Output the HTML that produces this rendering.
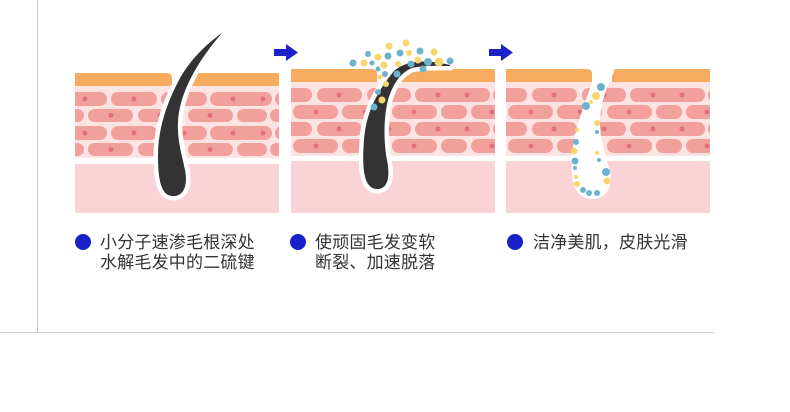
<!DOCTYPE html>
<html>
<head>
<meta charset="utf-8">
<style>
  html,body{margin:0;padding:0;background:#fff;}
  body{width:790px;height:412px;position:relative;overflow:hidden;}
  svg{position:absolute;left:0;top:0;}
  .t{position:absolute;font-family:"Liberation Sans","Noto Sans CJK SC",sans-serif;font-size:17px;line-height:20px;color:#333;white-space:nowrap;letter-spacing:0.2px;}
  .b{position:absolute;width:16px;height:16px;border-radius:50%;background:#1a20c8;}
</style>
</head>
<body>
<svg width="790" height="412" viewBox="0 0 790 412" xmlns="http://www.w3.org/2000/svg">
  <defs>
    <clipPath id="c1"><rect x="75" y="20" width="204" height="193"/></clipPath>
    <clipPath id="c2"><rect x="291" y="20" width="204" height="193"/></clipPath>
    <clipPath id="c3"><rect x="506" y="20" width="204" height="193"/></clipPath>
  </defs>

  <!-- frame lines -->
  <line x1="37.5" y1="0" x2="37.5" y2="332" stroke="#cccccc" stroke-width="1"/>
  <line x1="0" y1="332.5" x2="714" y2="332.5" stroke="#cccccc" stroke-width="1"/>

  <!-- arrows -->
  <g fill="#1a22c8">
    <rect x="274" y="49" width="14" height="7"/>
    <polygon points="286,44 298,52.5 286,61"/>
    <rect x="489" y="49" width="14" height="7"/>
    <polygon points="501,44 513,52.5 501,61"/>
  </g>

  <!-- PANEL 1 -->
  <g clip-path="url(#c1)">
    <path d="M75 73 H167 Q172 73 172 78 V86 H75 Z" fill="#f6ab5f"/>
    <path d="M192 86 V78 Q192 73 197 73 H279 V86 Z" fill="#f6ab5f"/>
    <rect x="75" y="86" width="204" height="72" fill="#fde3e1"/>
    <g fill="#f2a09b">
      <rect x="62" y="92" width="45" height="14" rx="7"/>
      <rect x="111" y="92" width="46" height="14" rx="7"/>
      <rect x="161" y="92" width="46" height="14" rx="7"/>
      <rect x="210" y="92" width="62" height="14" rx="7"/>
      <rect x="275" y="92" width="45" height="14" rx="7"/>
      <rect x="40" y="109" width="44" height="13" rx="6.5"/>
      <rect x="88" y="109" width="45" height="13" rx="6.5"/>
      <rect x="138" y="109" width="45" height="13" rx="6.5"/>
      <rect x="188" y="109" width="45" height="13" rx="6.5"/>
      <rect x="237" y="109" width="30" height="13" rx="6.5"/>
      <rect x="270" y="109" width="45" height="13" rx="6.5"/>
      <rect x="62" y="126" width="45" height="14" rx="7"/>
      <rect x="111" y="126" width="46" height="14" rx="7"/>
      <rect x="161" y="126" width="46" height="14" rx="7"/>
      <rect x="210" y="126" width="62" height="14" rx="7"/>
      <rect x="275" y="126" width="45" height="14" rx="7"/>
      <rect x="40" y="143" width="44" height="13" rx="6.5"/>
      <rect x="88" y="143" width="45" height="13" rx="6.5"/>
      <rect x="138" y="143" width="45" height="13" rx="6.5"/>
      <rect x="188" y="143" width="45" height="13" rx="6.5"/>
      <rect x="237" y="143" width="30" height="13" rx="6.5"/>
      <rect x="270" y="143" width="45" height="13" rx="6.5"/>
    </g>
    <g fill="#e3717b">
      <circle cx="85" cy="99" r="2.5"/><circle cx="134" cy="99" r="2.5"/><circle cx="184" cy="99" r="2.5"/><circle cx="233" cy="99" r="2.5"/><circle cx="263" cy="99" r="2.5"/>
      <circle cx="111" cy="115.5" r="2.5"/><circle cx="160" cy="115.5" r="2.5"/><circle cx="210" cy="115.5" r="2.5"/>
      <circle cx="85" cy="133" r="2.5"/><circle cx="134" cy="133" r="2.5"/><circle cx="184" cy="133" r="2.5"/><circle cx="233" cy="133" r="2.5"/><circle cx="263" cy="133" r="2.5"/>
      <circle cx="111" cy="149.5" r="2.5"/><circle cx="160" cy="149.5" r="2.5"/><circle cx="210" cy="149.5" r="2.5"/>
    </g>
    <rect x="75" y="158" width="204" height="6" fill="#ffffff"/>
    <rect x="75" y="164" width="204" height="49" fill="#f9d3d6"/>
    <!-- hair -->
    <path d="M222 33 C205 45,188 62,178 82 C166 105,158 130,158 155 C158 180,161 195,172 196 C184 197,188 185,185 170 C182 155,177 140,178 122 C179 100,190 70,222 33 Z" fill="#fff" stroke="#fff" stroke-width="9" stroke-linejoin="round"/>
    <path d="M222 33 C205 45,188 62,178 82 C166 105,158 130,158 155 C158 180,161 195,172 196 C184 197,188 185,185 170 C182 155,177 140,178 122 C179 100,190 70,222 33 Z" fill="#333333"/>
  </g>

  <!-- PANEL 2 -->
  <g clip-path="url(#c2)">
    <path d="M291 69 H372 Q377 69 377 74 V82 H291 Z" fill="#f6ab5f"/>
    <path d="M397 82 V74 Q397 69 402 69 H495 V82 Z" fill="#f6ab5f"/>
    <rect x="291" y="82" width="204" height="74" fill="#fde3e1"/>
    <g fill="#f2a09b">
      <rect x="265" y="88" width="47" height="14" rx="7"/>
      <rect x="317" y="88" width="45" height="14" rx="7"/>
      <rect x="367" y="88" width="44" height="14" rx="7"/>
      <rect x="415" y="88" width="75" height="14" rx="7"/>
      <rect x="493" y="88" width="47" height="14" rx="7"/>
      <rect x="293" y="105" width="45" height="14" rx="7"/>
      <rect x="342" y="105" width="45" height="14" rx="7"/>
      <rect x="392" y="105" width="45" height="14" rx="7"/>
      <rect x="441" y="105" width="26" height="14" rx="7"/>
      <rect x="471" y="105" width="49" height="14" rx="7"/>
      <rect x="265" y="122" width="47" height="14" rx="7"/>
      <rect x="317" y="122" width="45" height="14" rx="7"/>
      <rect x="367" y="122" width="44" height="14" rx="7"/>
      <rect x="415" y="122" width="75" height="14" rx="7"/>
      <rect x="493" y="122" width="47" height="14" rx="7"/>
      <rect x="293" y="139" width="45" height="14" rx="7"/>
      <rect x="342" y="139" width="45" height="14" rx="7"/>
      <rect x="392" y="139" width="45" height="14" rx="7"/>
      <rect x="441" y="139" width="26" height="14" rx="7"/>
      <rect x="471" y="139" width="49" height="14" rx="7"/>
    </g>
    <g fill="#e3717b">
      <circle cx="339" cy="95" r="2.5"/><circle cx="389" cy="95" r="2.5"/><circle cx="438" cy="95" r="2.5"/><circle cx="467" cy="95" r="2.5"/>
      <circle cx="316" cy="112" r="2.5"/><circle cx="365" cy="112" r="2.5"/><circle cx="414" cy="112" r="2.5"/><circle cx="492" cy="112" r="2.5"/>
      <circle cx="339" cy="129" r="2.5"/><circle cx="389" cy="129" r="2.5"/><circle cx="438" cy="129" r="2.5"/><circle cx="467" cy="129" r="2.5"/>
      <circle cx="316" cy="146" r="2.5"/><circle cx="365" cy="146" r="2.5"/><circle cx="414" cy="146" r="2.5"/><circle cx="492" cy="146" r="2.5"/>
    </g>
    <rect x="291" y="156" width="204" height="5" fill="#ffffff"/>
    <rect x="291" y="161" width="204" height="52" fill="#f9d3d6"/>
    <!-- hair -->
    <path d="M450 65 C430 60,407 59,394 71 C380 88,366 110,364 140 C362 165,363 188,376 189 C389 190,390 175,387 160 C384 145,383 120,388 100 C393 84,400 73,412 68 C425 65,440 66,450 66 Z" fill="#fff" stroke="#fff" stroke-width="9" stroke-linejoin="round"/>
    <path d="M450 65 C430 60,407 59,394 71 C380 88,366 110,364 140 C362 165,363 188,376 189 C389 190,390 175,387 160 C384 145,383 120,388 100 C393 84,400 73,412 68 C425 65,440 66,450 66 Z" fill="#333333"/>
    <!-- particles -->
    <g fill="#6cb2cd">
      <circle cx="353" cy="63" r="3.5"/><circle cx="368" cy="54" r="3"/><circle cx="372" cy="63" r="2.5"/>
      <circle cx="388" cy="56" r="3.5"/><circle cx="400" cy="53" r="3.5"/><circle cx="420" cy="51" r="3.5"/>
      <circle cx="411" cy="64" r="3.5"/><circle cx="428" cy="62" r="4"/><circle cx="423" cy="69" r="3.5"/>
      <circle cx="450" cy="61" r="3.5"/><circle cx="378" cy="69" r="2.5"/><circle cx="385" cy="74" r="3"/>
      <circle cx="397" cy="74" r="3.5"/><circle cx="378" cy="92" r="3"/><circle cx="374" cy="107" r="3.5"/>
    </g>
    <g fill="#f8d66b">
      <circle cx="389" cy="46" r="3.5"/><circle cx="406" cy="43" r="3.5"/><circle cx="364" cy="63" r="3.5"/>
      <circle cx="378" cy="57" r="3.5"/><circle cx="384" cy="65" r="3.5"/><circle cx="409" cy="53" r="3"/>
      <circle cx="434" cy="52" r="3.5"/><circle cx="439" cy="62" r="4.5"/><circle cx="418" cy="60" r="3.5"/>
      <circle cx="398" cy="64" r="3"/><circle cx="386" cy="84" r="3"/><circle cx="382" cy="100" r="3.5"/>
      <circle cx="380" cy="77" r="2.5"/>
    </g>
  </g>

  <!-- PANEL 3 -->
  <g clip-path="url(#c3)">
    <path d="M506 69 H587 Q592 69 592 74 V82 H506 Z" fill="#f6ab5f"/>
    <path d="M612 82 V74 Q612 69 617 69 H710 V82 Z" fill="#f6ab5f"/>
    <rect x="506" y="82" width="204" height="74" fill="#fde3e1"/>
    <g fill="#f2a09b">
      <rect x="480" y="88" width="47" height="14" rx="7"/>
      <rect x="532" y="88" width="45" height="14" rx="7"/>
      <rect x="582" y="88" width="44" height="14" rx="7"/>
      <rect x="630" y="88" width="75" height="14" rx="7"/>
      <rect x="708" y="88" width="47" height="14" rx="7"/>
      <rect x="508" y="105" width="45" height="14" rx="7"/>
      <rect x="557" y="105" width="45" height="14" rx="7"/>
      <rect x="607" y="105" width="45" height="14" rx="7"/>
      <rect x="656" y="105" width="26" height="14" rx="7"/>
      <rect x="686" y="105" width="49" height="14" rx="7"/>
      <rect x="480" y="122" width="47" height="14" rx="7"/>
      <rect x="532" y="122" width="45" height="14" rx="7"/>
      <rect x="582" y="122" width="44" height="14" rx="7"/>
      <rect x="630" y="122" width="75" height="14" rx="7"/>
      <rect x="708" y="122" width="47" height="14" rx="7"/>
      <rect x="508" y="139" width="45" height="14" rx="7"/>
      <rect x="557" y="139" width="45" height="14" rx="7"/>
      <rect x="607" y="139" width="45" height="14" rx="7"/>
      <rect x="656" y="139" width="26" height="14" rx="7"/>
      <rect x="686" y="139" width="49" height="14" rx="7"/>
    </g>
    <g fill="#e3717b">
      <circle cx="554" cy="95" r="2.5"/><circle cx="604" cy="95" r="2.5"/><circle cx="653" cy="95" r="2.5"/><circle cx="682" cy="95" r="2.5"/>
      <circle cx="531" cy="112" r="2.5"/><circle cx="580" cy="112" r="2.5"/><circle cx="629" cy="112" r="2.5"/><circle cx="707" cy="112" r="2.5"/>
      <circle cx="554" cy="129" r="2.5"/><circle cx="604" cy="129" r="2.5"/><circle cx="653" cy="129" r="2.5"/><circle cx="682" cy="129" r="2.5"/>
      <circle cx="531" cy="146" r="2.5"/><circle cx="580" cy="146" r="2.5"/><circle cx="629" cy="146" r="2.5"/><circle cx="707" cy="146" r="2.5"/>
    </g>
    <rect x="506" y="156" width="204" height="5" fill="#ffffff"/>
    <rect x="506" y="161" width="204" height="52" fill="#f9d3d6"/>
    <!-- empty follicle -->
    <path d="M597 72 C588 98,576 125,573 155 C571 180,575 196,590 198 C605 199,612 188,609 172 C606 158,598 140,599 120 C600 100,606 85,613 72 Z" fill="#ffffff" stroke="#fff" stroke-width="2"/>
    <g fill="#6cb2cd">
      <circle cx="601" cy="87" r="4"/><circle cx="586" cy="106" r="4"/><circle cx="576" cy="142" r="3"/>
      <circle cx="575" cy="161" r="3.5"/><circle cx="575" cy="168" r="2"/><circle cx="583" cy="190" r="3"/>
      <circle cx="589" cy="193" r="3"/><circle cx="597" cy="193" r="3"/><circle cx="606" cy="172" r="4"/>
      <circle cx="599" cy="160" r="2"/><circle cx="597" cy="132" r="2"/>
    </g>
    <g fill="#f8d66b">
      <circle cx="596" cy="96" r="4"/><circle cx="591" cy="102" r="2"/><circle cx="597" cy="123" r="3"/>
      <circle cx="577" cy="130" r="2"/><circle cx="574" cy="151" r="3.5"/><circle cx="597" cy="153" r="2"/>
      <circle cx="576" cy="177" r="2"/><circle cx="577" cy="184" r="3"/><circle cx="607" cy="181" r="3.5"/>
    </g>
  </g>
</svg>

<!-- captions -->
<div class="b" style="left:75px;top:234px;"></div>
<div class="t" style="left:100px;top:233px;">小分子速渗毛根深处<br>水解毛发中的二硫键</div>

<div class="b" style="left:290px;top:234px;"></div>
<div class="t" style="left:315px;top:233px;">使顽固毛发变软<br>断裂、加速脱落</div>

<div class="b" style="left:507px;top:234px;"></div>
<div class="t" style="left:533px;top:233px;">洁净美肌，皮肤光滑</div>
</body>
</html>
